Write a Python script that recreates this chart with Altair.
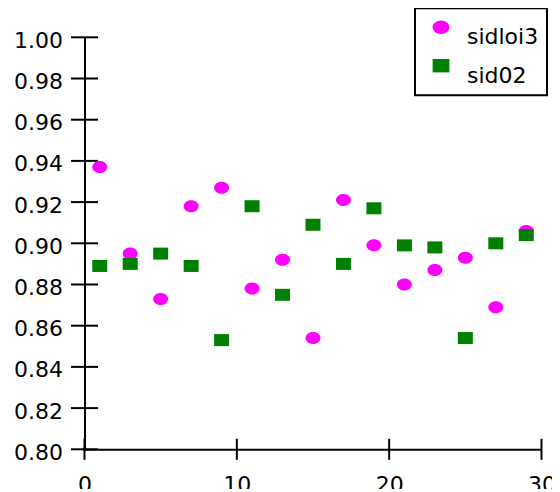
import altair as alt
import pandas as pd

x_vals = [1, 3, 5, 7, 9, 11, 13, 15, 17, 19, 21, 23, 25, 27, 29]
sidloi3 = [0.937, 0.895, 0.873, 0.918, 0.927, 0.878, 0.892, 0.854, 0.921, 0.899,
           0.880, 0.887, 0.893, 0.869, 0.906]
sid02 = [0.889, 0.890, 0.895, 0.889, 0.853, 0.918, 0.875, 0.909, 0.890, 0.917,
         0.899, 0.898, 0.854, 0.900, 0.904]
series_names = ["sidloi3", "sid02"]
series_colors = ["#ff00ff", "#008000"]
x_ticks = [0, 10, 20, 30]
y_ticks = [0.80, 0.82, 0.84, 0.86, 0.88, 0.90, 0.92, 0.94, 0.96, 0.98, 1.00]
origin_x = [0]
origin_y = [0.80]

rows = []
for name, vals in zip(series_names, [sidloi3, sid02]):
    for xv, yv in zip(x_vals, vals):
        rows.append({"x": xv, "value": yv, "series": name})
df = pd.DataFrame(rows)
df_origin = pd.DataFrame({"x": origin_x, "value": origin_y})
df_yt = pd.DataFrame({"x": [x_ticks[0]] * len(y_ticks), "value": y_ticks})
df_xt = pd.DataFrame({"x": x_ticks, "value": [y_ticks[0]] * len(x_ticks)})

FONT = "DejaVu Sans"
FS = 22
ellipse = "M-1.25,0A1.25,1,0,1,1,1.25,0A1.25,1,0,1,1,-1.25,0Z"
rect = "M-1.25,-1H1.25V1H-1.25Z"

xscale = alt.Scale(domain=[0, 30], nice=False, zero=False)
yscale = alt.Scale(domain=[0.80, 1.00], nice=False, zero=False)


def make_legend():
    return alt.Legend(title=None, orient="none", legendX=330.5, legendY=-29,
                      padding=8, symbolOffset=7, labelOffset=15,
                      rowPadding=6.4, symbolSize=180,
                      labelFont=FONT, labelFontSize=FS, labelColor="black",
                      labelBaseline="top",
                      strokeColor="black", fillColor="white")


points = alt.Chart(df).mark_point(filled=True, opacity=1, strokeWidth=0, size=144).encode(
    x=alt.X("x:Q", scale=xscale, title=None,
            axis=alt.Axis(orient="bottom", values=x_ticks, format="d", grid=False,
                          domainColor="black", domainWidth=2, ticks=False, tickSize=0,
                          labelFont=FONT, labelFontSize=FS,
                          labelColor="black", labelPadding=25, labelFlush=False,
                          labelBaseline="top")),
    y=alt.Y("value:Q", scale=yscale, title=None,
            axis=alt.Axis(orient="left", values=y_ticks, format=".2f", grid=False,
                          domainColor="black", domainWidth=2, ticks=False, tickSize=0,
                          labelFont=FONT, labelFontSize=FS,
                          labelColor="black", labelPadding=22, labelOffset=3,
                          labelBaseline="middle")),
    color=alt.Color("series:N", sort=series_names,
                    scale=alt.Scale(domain=series_names, range=series_colors),
                    legend=make_legend()),
    shape=alt.Shape("series:N", sort=series_names,
                    scale=alt.Scale(domain=series_names, range=[ellipse, rect]),
                    legend=make_legend()),
)

ytick_marks = alt.Chart(df_yt).mark_tick(orient="horizontal", color="black", thickness=2,
                                         size=27, opacity=1).encode(
    x=alt.X("x:Q", scale=xscale),
    y=alt.Y("value:Q", scale=yscale),
)

xtick_marks = alt.Chart(df_xt).mark_tick(orient="vertical", color="black", thickness=2,
                                         size=21, opacity=1).encode(
    x=alt.X("x:Q", scale=xscale),
    y=alt.Y("value:Q", scale=yscale),
)

origin = alt.Chart(df_origin).mark_circle(color="black", size=16, opacity=1).encode(
    x=alt.X("x:Q", scale=xscale),
    y=alt.Y("value:Q", scale=yscale),
)

chart = alt.layer(ytick_marks, xtick_marks, points, origin).properties(
    width=457, height=412,
    autosize=alt.AutoSizeParams(type="none"),
    padding={"left": 76.5, "top": 29.3, "right": 10, "bottom": 40},
).configure_view(stroke=None).configure_legend(strokeWidth=2)

chart.save("out.html", embed_options={"renderer": "svg", "actions": False})
